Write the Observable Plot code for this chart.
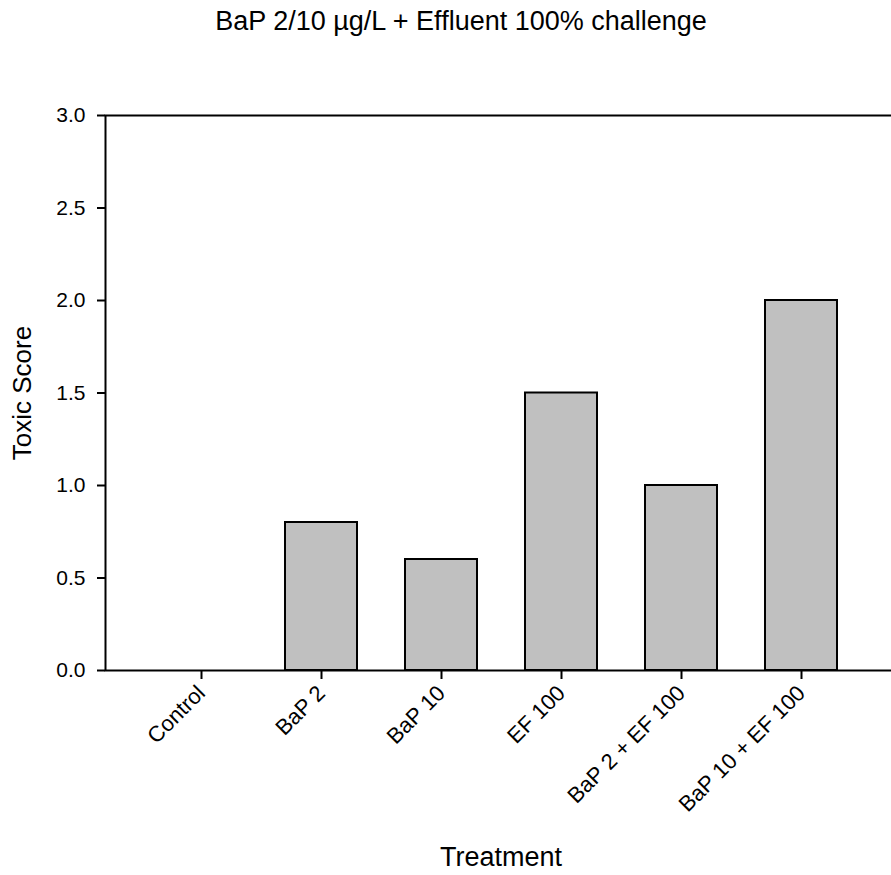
<!DOCTYPE html>
<html>
<head>
<meta charset="utf-8">
<script src="https://cdn.jsdelivr.net/npm/d3@7"></script>
<script src="https://cdn.jsdelivr.net/npm/@observablehq/plot@0.6"></script>
<style>
  html, body { margin: 0; padding: 0; background: white; }
  #wrap { position: relative; width: 891px; height: 875px; overflow: hidden; background: white; }
  #title { position: absolute; left: 461px; top: 8px; transform: translateX(-50%); white-space: nowrap;
           font-family: "Liberation Sans", Arial, sans-serif; font-size: 27px; line-height: 27px; color: black; }
  #chart { position: absolute; left: 0; top: 60px; width: 896px; }
  #chart svg { max-width: none !important; }
</style>
</head>
<body>
<div id="wrap">
  <div id="title"></div>
  <div id="chart"></div>
</div>
<script>
const titleText = "BaP 2/10 µg/L + Effluent 100% challenge";
const categories = ["Control", "BaP 2", "BaP 10", "EF 100", "BaP 2 + EF 100", "BaP 10 + EF 100"];
const values = [0, 0.8, 0.6, 1.5, 1.0, 2.0];
const yTicks = [0, 0.5, 1.0, 1.5, 2.0, 2.5, 3.0];
const xLabel = "Treatment";
const yLabel = "Toxic Score";

const data = categories.map((c, i) => ({cat: c, value: values[i]}));

document.getElementById("title").textContent = titleText;

const chart = Plot.plot({
  width: 896,
  height: 815,
  marginLeft: 105,
  marginRight: 0,
  marginTop: 55,
  marginBottom: 205,
  style: {fontFamily: "'Liberation Sans', Arial, sans-serif", fontSize: "20px", color: "black", background: "white", maxWidth: "none"},
  x: {domain: categories, paddingInner: 0.4, paddingOuter: 0.494, label: null},
  y: {domain: [0, 3], label: null},
  marks: [
    Plot.barY(data, {x: "cat", y: "value", fill: "#c0c0c0", stroke: "black", strokeWidth: 2}),
    Plot.frame({stroke: "black", strokeWidth: 2}),
    Plot.axisY({ticks: yTicks, tickFormat: d3.format(".1f"), tickSize: 8, tickPadding: 12, fontSize: 21, strokeWidth: 2, label: null}),
    Plot.axisX({tickSize: 9, tickPadding: 10, tickRotate: -45, fontSize: 22, strokeWidth: 2, label: null}),
    Plot.text([yLabel], {frameAnchor: "left", dx: -83, rotate: -90, textAnchor: "middle", lineAnchor: "middle", fontSize: 26, text: d => d}),
    Plot.text([xLabel], {frameAnchor: "bottom", dy: 187, textAnchor: "middle", lineAnchor: "middle", fontSize: 27, text: d => d})
  ]
});
document.getElementById("chart").appendChild(chart);
</script>
</body>
</html>
